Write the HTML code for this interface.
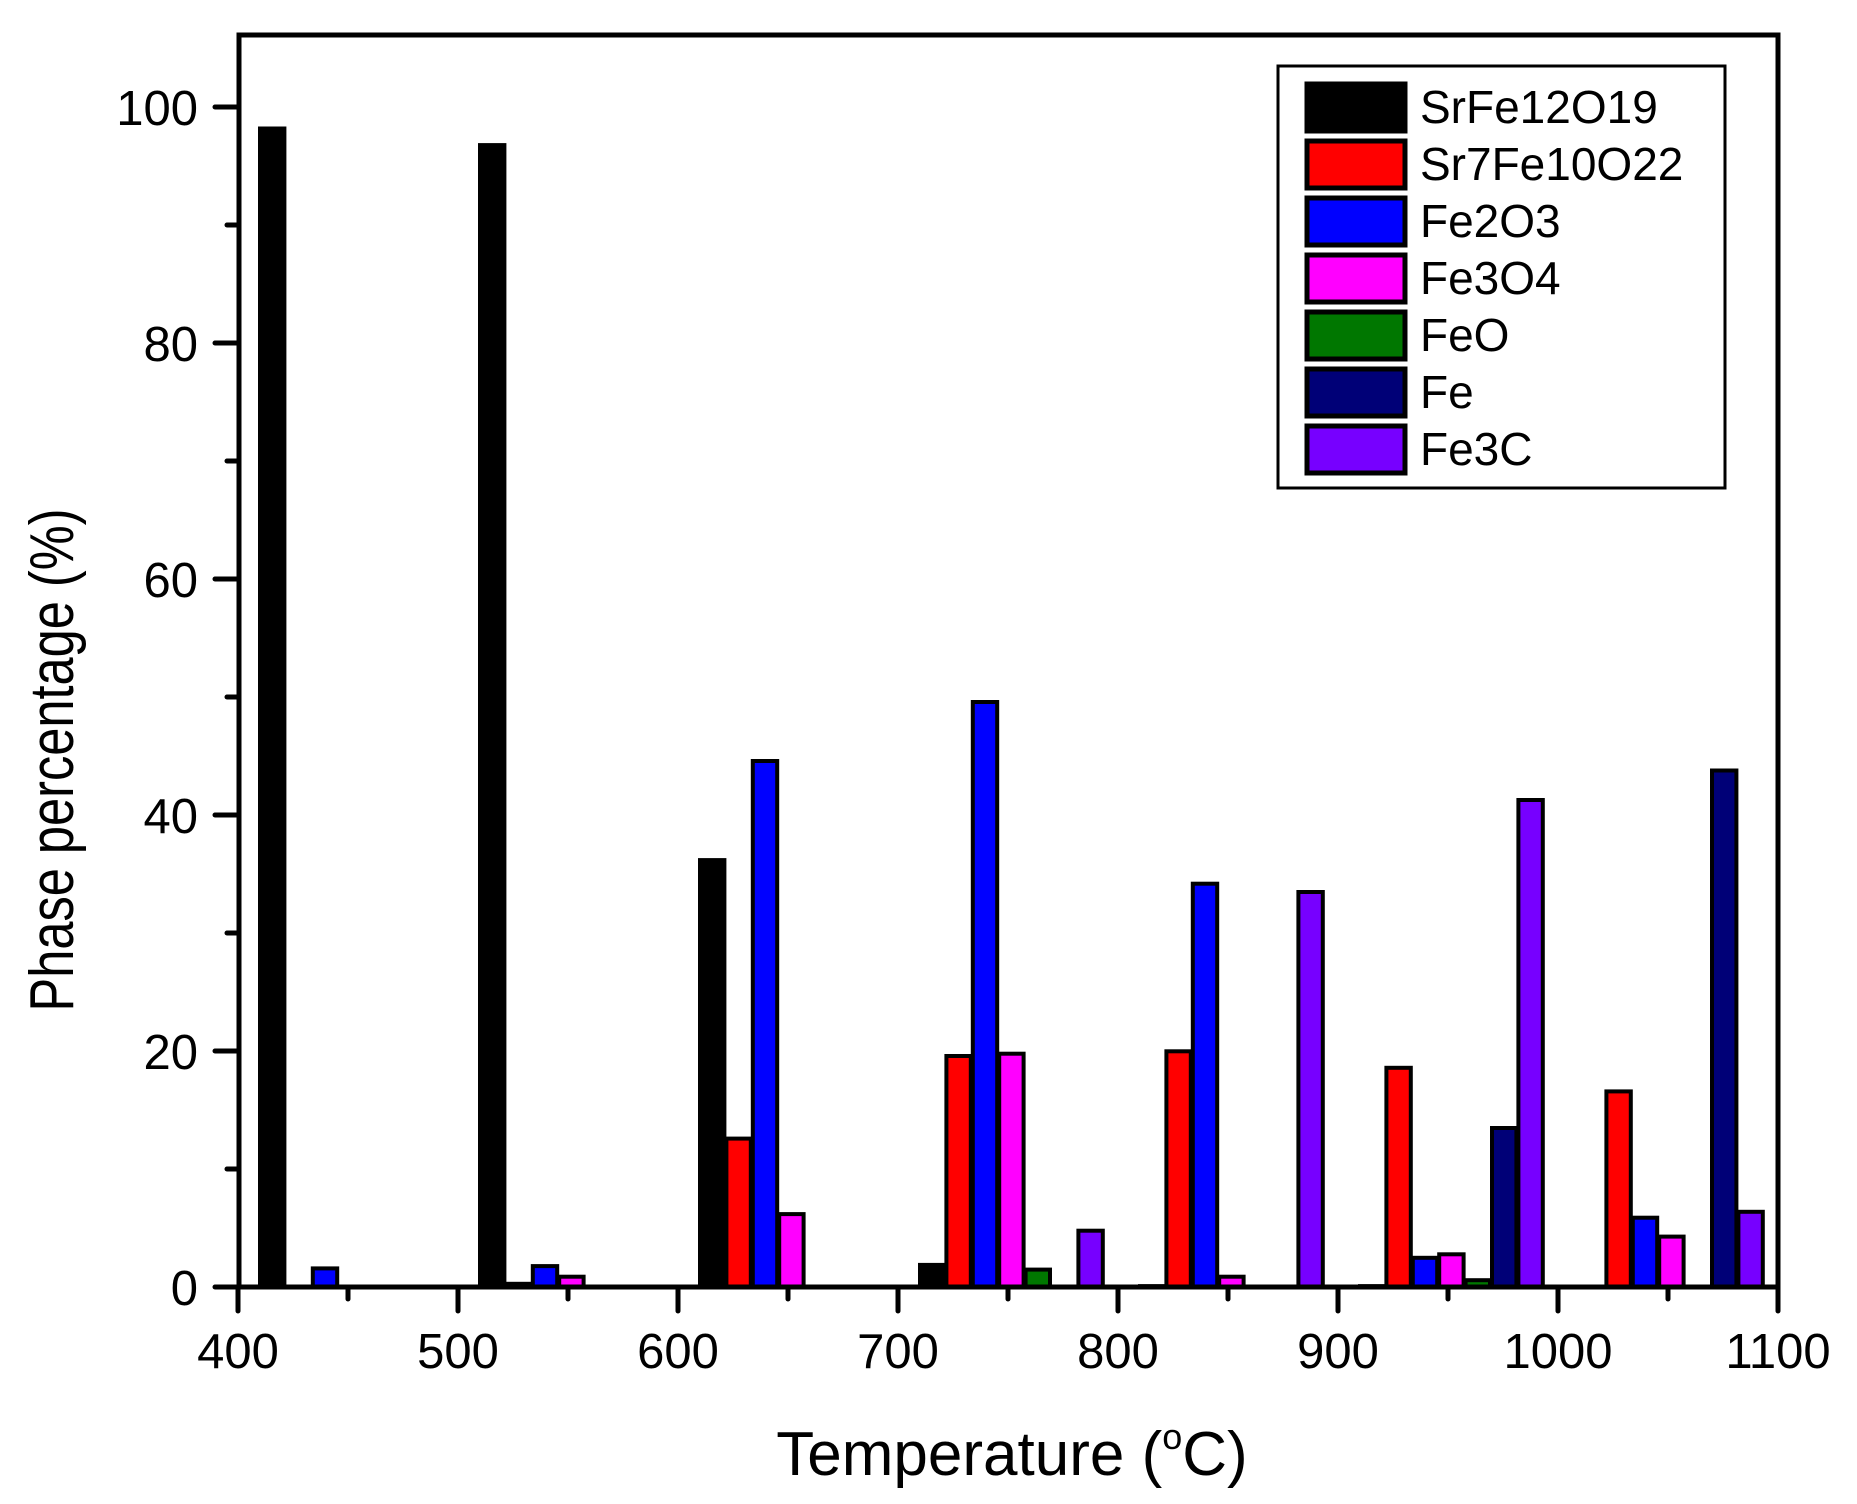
<!DOCTYPE html>
<html><head><meta charset="utf-8"><style>html,body{margin:0;padding:0;background:#fff}svg{display:block}</style></head>
<body>
<svg width="1857" height="1504" viewBox="0 0 1857 1504" xmlns="http://www.w3.org/2000/svg" font-family="Liberation Sans, Arial, sans-serif">
<rect width="1857" height="1504" fill="#fff"/>
<g stroke="#000" stroke-width="4">
<rect x="260" y="128.5" width="24.4" height="1158.8" fill="#000"/>
<rect x="312.8" y="1268.4" width="24.4" height="18.9" fill="#0000ff"/>
<rect x="480" y="145.1" width="24.4" height="1142.2" fill="#000"/>
<rect x="506.4" y="1283.8" width="24.4" height="3.5" fill="#ff0000"/>
<rect x="532.8" y="1266.1" width="24.4" height="21.2" fill="#0000ff"/>
<rect x="559.2" y="1276.7" width="24.4" height="10.6" fill="#ff00ff"/>
<rect x="700" y="860.1" width="24.4" height="427.2" fill="#000"/>
<rect x="726.4" y="1138.6" width="24.4" height="148.7" fill="#ff0000"/>
<rect x="752.8" y="761" width="24.4" height="526.3" fill="#0000ff"/>
<rect x="779.2" y="1214.1" width="24.4" height="73.2" fill="#ff00ff"/>
<rect x="920" y="1264.9" width="24.4" height="22.4" fill="#000"/>
<rect x="946.4" y="1056" width="24.4" height="231.3" fill="#ff0000"/>
<rect x="972.8" y="702" width="24.4" height="585.3" fill="#0000ff"/>
<rect x="999.2" y="1053.7" width="24.4" height="233.6" fill="#ff00ff"/>
<rect x="1025.6" y="1269.6" width="24.4" height="17.7" fill="#007700"/>
<rect x="1078.4" y="1230.7" width="24.4" height="56.6" fill="#7700ff"/>
<rect x="1140" y="1286.1" width="24.4" height="1.2" fill="#000"/>
<rect x="1166.4" y="1051.3" width="24.4" height="236" fill="#ff0000"/>
<rect x="1192.8" y="883.7" width="24.4" height="403.6" fill="#0000ff"/>
<rect x="1219.2" y="1276.7" width="24.4" height="10.6" fill="#ff00ff"/>
<rect x="1298.4" y="892" width="24.4" height="395.3" fill="#7700ff"/>
<rect x="1360" y="1286.1" width="24.4" height="1.2" fill="#000"/>
<rect x="1386.4" y="1067.8" width="24.4" height="219.5" fill="#ff0000"/>
<rect x="1412.8" y="1257.8" width="24.4" height="29.5" fill="#0000ff"/>
<rect x="1439.2" y="1254.3" width="24.4" height="33" fill="#ff00ff"/>
<rect x="1465.6" y="1280.2" width="24.4" height="7.1" fill="#007700"/>
<rect x="1492" y="1128" width="24.4" height="159.3" fill="#000077"/>
<rect x="1518.4" y="800" width="24.4" height="487.3" fill="#7700ff"/>
<rect x="1606.4" y="1091.4" width="24.4" height="195.9" fill="#ff0000"/>
<rect x="1632.8" y="1217.7" width="24.4" height="69.6" fill="#0000ff"/>
<rect x="1659.2" y="1236.6" width="24.4" height="50.7" fill="#ff00ff"/>
<rect x="1712" y="770.5" width="24.4" height="516.8" fill="#000077"/>
<rect x="1738.4" y="1211.8" width="24.4" height="75.5" fill="#7700ff"/>
</g>
<g stroke="#000" stroke-width="5" fill="none">
<rect x="239" y="35" width="1539" height="1252"/>
</g>
<g stroke="#000" stroke-width="5" stroke-linecap="round">
<line x1="238" y1="1287" x2="238" y2="1311"/><line x1="458" y1="1287" x2="458" y2="1311"/><line x1="678" y1="1287" x2="678" y2="1311"/><line x1="898" y1="1287" x2="898" y2="1311"/><line x1="1118" y1="1287" x2="1118" y2="1311"/><line x1="1338" y1="1287" x2="1338" y2="1311"/><line x1="1558" y1="1287" x2="1558" y2="1311"/><line x1="1778" y1="1287" x2="1778" y2="1311"/>
<line x1="348" y1="1287" x2="348" y2="1299"/><line x1="568" y1="1287" x2="568" y2="1299"/><line x1="788" y1="1287" x2="788" y2="1299"/><line x1="1008" y1="1287" x2="1008" y2="1299"/><line x1="1228" y1="1287" x2="1228" y2="1299"/><line x1="1448" y1="1287" x2="1448" y2="1299"/><line x1="1668" y1="1287" x2="1668" y2="1299"/>
<line x1="215" y1="1287" x2="239" y2="1287"/><line x1="215" y1="1051" x2="239" y2="1051"/><line x1="215" y1="815" x2="239" y2="815"/><line x1="215" y1="579" x2="239" y2="579"/><line x1="215" y1="343" x2="239" y2="343"/><line x1="215" y1="107" x2="239" y2="107"/>
<line x1="227" y1="1169" x2="239" y2="1169"/><line x1="227" y1="933" x2="239" y2="933"/><line x1="227" y1="697" x2="239" y2="697"/><line x1="227" y1="461" x2="239" y2="461"/><line x1="227" y1="225" x2="239" y2="225"/>
</g>
<g font-size="49" fill="#000" text-anchor="middle">
<text x="238" y="1368">400</text><text x="458" y="1368">500</text><text x="678" y="1368">600</text><text x="898" y="1368">700</text><text x="1118" y="1368">800</text><text x="1338" y="1368">900</text><text x="1558" y="1368">1000</text><text x="1778" y="1368">1100</text>
</g>
<g font-size="49" fill="#000" text-anchor="end">
<text x="198" y="1305">0</text><text x="198" y="1069">20</text><text x="198" y="833">40</text><text x="198" y="597">60</text><text x="198" y="361">80</text><text x="198" y="125">100</text>
</g>
<text x="1012" y="1475" font-size="62" text-anchor="middle">Temperature (<tspan font-size="36" dy="-26">o</tspan><tspan dy="26">C)</tspan></text>
<text transform="translate(73,760) rotate(-90)" font-size="62" text-anchor="middle" textLength="503" lengthAdjust="spacingAndGlyphs">Phase percentage (%)</text>
<rect x="1278" y="66" width="447" height="422" fill="#fff" stroke="#000" stroke-width="3"/>
<g stroke="#000" stroke-width="5">
<rect x="1307" y="84" width="98" height="47" fill="#000"/>
<rect x="1307" y="141" width="98" height="47" fill="#ff0000"/>
<rect x="1307" y="198" width="98" height="47" fill="#0000ff"/>
<rect x="1307" y="255" width="98" height="47" fill="#ff00ff"/>
<rect x="1307" y="312" width="98" height="47" fill="#007700"/>
<rect x="1307" y="369" width="98" height="47" fill="#000077"/>
<rect x="1307" y="426" width="98" height="47" fill="#7700ff"/>
</g>
<g font-size="46" fill="#000">
<text x="1420" y="123">SrFe12O19</text>
<text x="1420" y="180">Sr7Fe10O22</text>
<text x="1420" y="237">Fe2O3</text>
<text x="1420" y="294">Fe3O4</text>
<text x="1420" y="351">FeO</text>
<text x="1420" y="408">Fe</text>
<text x="1420" y="465">Fe3C</text>
</g>
</svg>
</body></html>
